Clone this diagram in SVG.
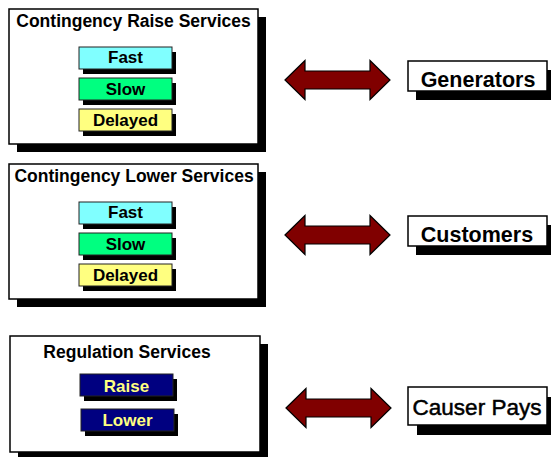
<svg xmlns="http://www.w3.org/2000/svg" width="551" height="457" viewBox="0 0 551 457">
<style>
.shadow{fill:#000}
.panel{fill:#fff;stroke:#000;stroke-width:1.5}
.title{font-family:"Liberation Sans",Arial,sans-serif;font-weight:bold;font-size:17.5px;fill:#000;text-anchor:middle}
.chip{stroke:#222;stroke-width:1}
.chiptext{font-family:"Liberation Sans",Arial,sans-serif;font-weight:bold;font-size:17px;text-anchor:middle}
.party{font-family:"Liberation Sans",Arial,sans-serif;font-weight:bold;font-size:21.5px;fill:#000;text-anchor:middle}
.arrow{fill:#800000;stroke:#000;stroke-width:1.2;stroke-linejoin:miter}
</style>
<defs>
<path id="dbl" d="M0,0 L20,-19.5 L20,-9 L85,-9 L85,-19.5 L105,0 L85,19.5 L85,9 L20,9 L20,19.5 Z"/>
</defs>
<rect width="551" height="457" fill="#fff"/>

<g id="raise-services">
<rect class="shadow" x="17" y="17" width="249" height="135"/>
<rect class="panel" x="9" y="9" width="249" height="135"/>
<text class="title" x="133.5" y="27">Contingency Raise Services</text>
<g id="raise-fast"><rect class="shadow" x="83" y="52" width="93" height="22"/><rect class="chip" x="79" y="47" width="93" height="22" fill="#80FFFF"/><text class="chiptext" x="125.5" y="63">Fast</text></g>
<g id="raise-slow"><rect class="shadow" x="83" y="83" width="93" height="22"/><rect class="chip" x="79" y="78" width="93" height="22" fill="#00FF80"/><text class="chiptext" x="125.5" y="94.5">Slow</text></g>
<g id="raise-delayed"><rect class="shadow" x="83" y="114" width="93" height="22"/><rect class="chip" x="79" y="109" width="93" height="22" fill="#FFFF80"/><text class="chiptext" x="125.5" y="125.5">Delayed</text></g>
</g>

<g id="lower-services">
<rect class="shadow" x="17" y="172" width="249" height="135"/>
<rect class="panel" x="9" y="164" width="249" height="135"/>
<text class="title" x="134" y="182">Contingency Lower Services</text>
<g id="lower-fast"><rect class="shadow" x="83" y="207" width="93" height="22"/><rect class="chip" x="79" y="202" width="93" height="22" fill="#80FFFF"/><text class="chiptext" x="125.5" y="218">Fast</text></g>
<g id="lower-slow"><rect class="shadow" x="83" y="238" width="93" height="22"/><rect class="chip" x="79" y="233" width="93" height="22" fill="#00FF80"/><text class="chiptext" x="125.5" y="249.5">Slow</text></g>
<g id="lower-delayed"><rect class="shadow" x="83" y="269" width="93" height="22"/><rect class="chip" x="79" y="264" width="93" height="22" fill="#FFFF80"/><text class="chiptext" x="125.5" y="280.5">Delayed</text></g>
</g>

<g id="regulation-services">
<rect class="shadow" x="18" y="344" width="250" height="116"/>
<rect class="panel" x="10" y="336" width="250" height="116"/>
<text class="title" x="127" y="358">Regulation Services</text>
<g id="reg-raise"><rect class="shadow" x="84" y="379" width="93" height="22"/><rect class="chip" x="80" y="374" width="93" height="22" fill="#000080"/><text class="chiptext" x="126.5" y="391.5" fill="#FFFF80">Raise</text></g>
<g id="reg-lower"><rect class="shadow" x="85" y="414" width="93" height="22"/><rect class="chip" x="81" y="409" width="93" height="22" fill="#000080"/><text class="chiptext" x="127.5" y="426" fill="#FFFF80">Lower</text></g>
</g>

<g id="generators">
<rect class="shadow" x="416" y="70" width="139" height="30"/>
<rect class="panel" x="408" y="61" width="139" height="30"/>
<text class="party" x="478" y="86.5">Generators</text>
</g>

<g id="customers">
<rect class="shadow" x="416" y="225" width="139" height="30"/>
<rect class="panel" x="408" y="216" width="139" height="30"/>
<text class="party" x="477" y="241.5">Customers</text>
</g>

<g id="causer-pays">
<rect class="shadow" x="417" y="397" width="139" height="38"/>
<rect class="panel" x="408" y="387" width="139" height="38"/>
<text class="party" x="477" y="415" style="font-weight:normal;font-size:22.5px;stroke:#000;stroke-width:0.5">Causer Pays</text>
</g>

<g id="connectors">
<use href="#dbl" class="arrow" transform="translate(285,80)"/>
<use href="#dbl" class="arrow" transform="translate(285,235)"/>
<use href="#dbl" class="arrow" transform="translate(286,408)"/>
</g>
</svg>
